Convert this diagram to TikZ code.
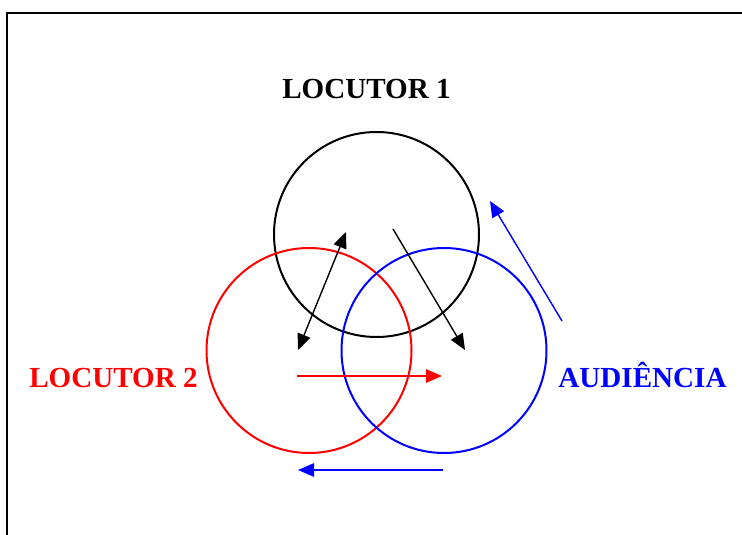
\documentclass[tikz,border=0pt]{standalone}
\usepackage{fontspec}
\setmainfont{Liberation Serif}
\usetikzlibrary{arrows.meta}
\begin{document}
\begin{tikzpicture}[x=1pt,y=-1pt,
  ring/.style={draw,circle,minimum size=205pt,inner sep=0pt,line width=2pt},
  lbl/.style={font=\fontsize{29.1}{30}\selectfont\bfseries,anchor=base,inner sep=0pt},
  arr/.style={line width=1.4pt,-{Triangle[length=16pt,width=13.5pt]}},
  darr/.style={line width=1.4pt,{Triangle[length=16pt,width=13.5pt]}-{Triangle[length=16pt,width=13.5pt]}}]
\useasboundingbox (0,0) rectangle (742,535);
\draw[line width=1.6pt] (7,13) rectangle (760,560);
\node[ring] (c1) at (376.5,234.5) {};
\node[ring,red] (c2) at (309,350.5) {};
\node[ring,blue] (c3) at (444,350.5) {};
\node[lbl] (l1) at (366.5,99) {LOCUTOR 1};
\node[lbl,red] (l2) at (113.5,387) {LOCUTOR 2};
\node[lbl,blue] (l3) at (642.5,387) {AUDIÊNCIA};
\coordinate (a1) at (346,232);
\coordinate (a2) at (298,350);
\coordinate (b1) at (393,229);
\coordinate (b2) at (465,350);
\coordinate (r1) at (297,376);
\coordinate (r2) at (442,376);
\coordinate (u1) at (443,470);
\coordinate (u2) at (298,470);
\coordinate (v1) at (562,321);
\coordinate (v2) at (490,201);
\draw[darr] (a1) -- (a2);
\draw[arr] (b1) -- (b2);
\draw[arr,red] (r1) -- (r2);
\draw[arr,blue] (u1) -- (u2);
\draw[arr,blue] (v1) -- (v2);
\end{tikzpicture}
\end{document}
